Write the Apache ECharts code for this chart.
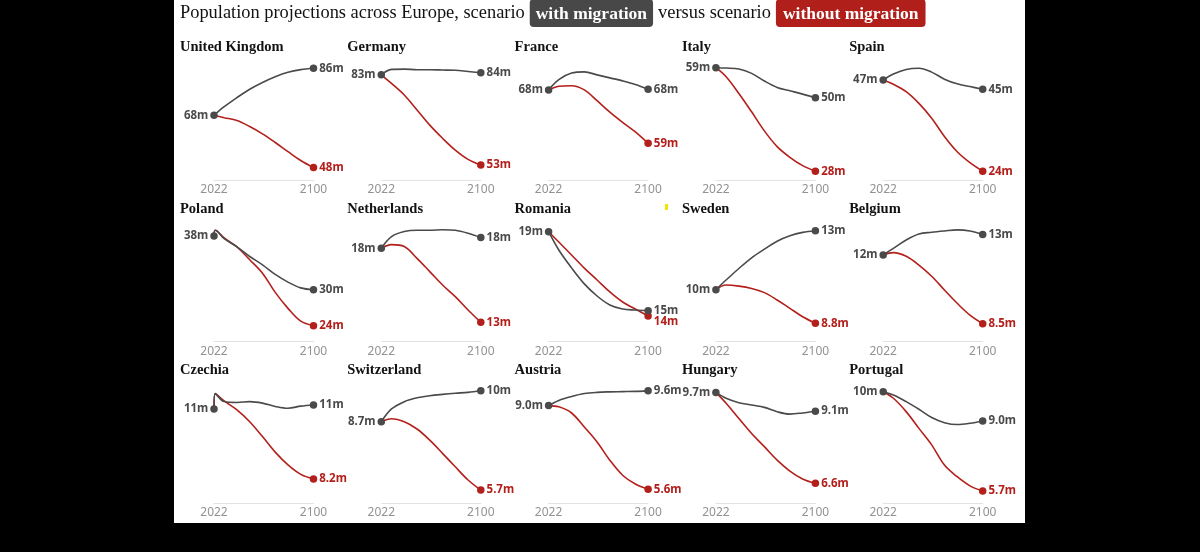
<!DOCTYPE html>
<html>
<head>
<meta charset="utf-8">
<script src="https://cdn.jsdelivr.net/npm/echarts@6/dist/echarts.min.js"></script>
<style>
  html, body { margin: 0; padding: 0; background: #000; }
  #sheet { position: absolute; left: 174px; top: 0; width: 851px; height: 523px; background: #fff; }
  #chart { position: absolute; left: 0; top: 0; width: 1200px; height: 552px; }
</style>
</head>
<body>
<div id="sheet"></div>
<div id="chart"></div>
<script>
// countries, left to right, top to bottom
var countries = ['United Kingdom', 'Germany', 'France', 'Italy', 'Spain',
  'Poland', 'Netherlands', 'Romania', 'Sweden', 'Belgium',
  'Czechia', 'Switzerland', 'Austria', 'Hungary', 'Portugal'];

// years of the points
var years = [2022, 2030, 2040, 2050, 2060, 2070, 2080, 2090, 2100];
// Poland and Czechia jump right after the first year
var yearsEarlyJump = [2022, 2023, 2030, 2040, 2050, 2060, 2070, 2080, 2090, 2100];

// population in millions, scenario with migration
var withMigration = [
  [68, 71.3, 74.8, 78.0, 80.6, 82.8, 84.5, 85.5, 86.0],
  [83.3, 85.1, 85.2, 85.0, 85.0, 84.9, 84.8, 84.4, 84.0],
  [67.9, 69.6, 70.7, 70.9, 70.4, 69.9, 69.4, 68.8, 68.0],
  [59.0, 58.9, 58.6, 57.3, 55.0, 53.1, 52.1, 51.1, 50.0],
  [47.4, 48.9, 50.1, 50.4, 49.4, 47.6, 46.4, 45.7, 45.0],
  [38.0, 38.9, 37.6, 36.3, 34.8, 33.5, 32.0, 30.8, 29.9, 29.6],
  [17.6, 18.34, 18.66, 18.74, 18.74, 18.78, 18.74, 18.55, 18.28],
  [19.1, 18.06, 17.04, 16.13, 15.44, 14.93, 14.70, 14.64, 14.6],
  [10.4, 10.86, 11.41, 11.92, 12.33, 12.71, 12.97, 13.13, 13.21],
  [11.7, 12.01, 12.40, 12.68, 12.76, 12.82, 12.87, 12.82, 12.66],
  [10.5, 11.0, 10.74, 10.71, 10.74, 10.69, 10.58, 10.52, 10.59, 10.63],
  [8.7, 9.26, 9.58, 9.75, 9.84, 9.90, 9.95, 9.99, 10.06],
  [9.0, 9.21, 9.37, 9.49, 9.54, 9.56, 9.57, 9.58, 9.6],
  [9.7, 9.50, 9.35, 9.27, 9.19, 9.04, 8.96, 9.00, 9.06],
  [10.38, 10.22, 9.91, 9.55, 9.16, 8.92, 8.83, 8.89, 9.0]
];

// population in millions, scenario without migration
var withoutMigration = [
  [68, 67.1, 66.0, 63.7, 60.9, 57.6, 54.1, 50.7, 48.0],
  [83.3, 80.4, 76.5, 71.5, 66.4, 62.0, 58.0, 54.9, 53.0],
  [67.9, 68.5, 68.6, 67.9, 66.1, 64.2, 62.5, 60.9, 59.0],
  [59.0, 56.3, 51.3, 45.8, 40.1, 35.4, 32.2, 29.7, 28.0],
  [47.4, 46.3, 44.4, 41.4, 37.6, 32.9, 29.0, 26.2, 24.0],
  [38.0, 38.9, 37.7, 36.3, 34.3, 32.2, 29.2, 26.7, 24.7, 24.0],
  [17.6, 17.83, 17.71, 16.96, 16.12, 15.27, 14.53, 13.68, 12.9],
  [19.1, 18.51, 17.77, 17.03, 16.35, 15.67, 15.10, 14.70, 14.3],
  [10.4, 10.62, 10.57, 10.46, 10.26, 9.91, 9.51, 9.11, 8.8],
  [11.7, 11.81, 11.64, 11.23, 10.71, 10.07, 9.45, 8.90, 8.5],
  [10.5, 11.0, 10.76, 10.47, 10.08, 9.59, 9.08, 8.66, 8.35, 8.2],
  [8.7, 8.83, 8.70, 8.38, 7.89, 7.31, 6.72, 6.14, 5.7],
  [9.0, 8.95, 8.70, 8.13, 7.52, 6.78, 6.17, 5.81, 5.6],
  [9.7, 9.33, 8.81, 8.30, 7.85, 7.39, 7.02, 6.75, 6.6],
  [10.38, 10.07, 9.44, 8.65, 7.87, 6.92, 6.37, 5.94, 5.7]
];

// each small chart has its own vertical scale
var axisMin = [43.25, 48.0, 52.88, 25.41, 21.76, 21.52, 11.68, 12.85, 7.93, 7.67, 7.41, 5.13, 5.04, 5.93, 5.13];
var axisMax = [89.18, 88.26, 72.88, 61.30, 52.51, 40.27, 19.30, 19.68, 13.65, 13.26, 11.35, 10.40, 9.92, 10.02, 10.79];

var GRAY = '#4a4a4a';
var RED = '#b3201c';
var SANS = 'Noto Sans';
var SERIF = 'Liberation Serif';

function fmt(v) {
  return (v >= 9.95 ? Math.round(v) : v.toFixed(1)) + 'm';
}

var chart = echarts.init(document.getElementById('chart'));

var grids = [], xAxes = [], yAxes = [], series = [];
var titles = [{
  left: 180, top: -1, padding: 0,
  text: '{t|Population projections across Europe, scenario} {a|with migration} {t|versus scenario} {b|without migration}',
  textStyle: {
    fontWeight: 'normal',
    rich: {
      t: { fontFamily: SERIF, fontSize: 18.4, fontWeight: 'normal', color: '#121212', lineHeight: 28 },
      a: { fontFamily: SERIF, fontSize: 17.5, fontWeight: 'bold', color: '#fff', backgroundColor: '#484848',
           borderRadius: 4, padding: [6, 6, 4, 6], lineHeight: 18 },
      b: { fontFamily: SERIF, fontSize: 17.5, fontWeight: 'bold', color: '#fff', backgroundColor: '#b01f1a',
           borderRadius: 4, padding: [6, 7, 4, 7], lineHeight: 18 }
    }
  }
}];

function makeLine(i, vals, yrs, color, isWith, nudge) {
  var last = vals.length - 1;
  var data = vals.map(function (v, k) {
    var item = { value: [yrs[k], v], symbol: 'none' };
    if (k === last || (k === 0 && isWith)) {
      item.symbol = 'circle';
      item.symbolSize = 7.5;
      item.label = {
        show: true,
        position: k === 0 ? 'left' : 'right',
        distance: 2,
        formatter: fmt(v),
        color: k === 0 ? GRAY : color,
        fontFamily: SANS, fontSize: 11.5, fontWeight: 'bold',
        offset: k === last ? [0, nudge] : [0, 0]
      };
    }
    return item;
  });
  return {
    type: 'line', xAxisIndex: i, yAxisIndex: i,
    data: data, smooth: 0.35, showAllSymbol: true, clip: false, silent: true,
    lineStyle: { color: color, width: 1.6 },
    itemStyle: { color: color },
    z: isWith ? 4 : 3
  };
}

countries.forEach(function (name, i) {
  var row = Math.floor(i / 5), col = i % 5;
  var left = 214 + col * 167.3;
  var top = 60 + row * 161.5;
  grids.push({ left: left, top: top, width: 99.5, height: 120 });
  titles.push({
    text: name, left: left - 34, top: top - 20, padding: 0,
    textStyle: { fontFamily: SERIF, fontSize: 14.5, fontWeight: 'bold', color: '#121212' }
  });
  xAxes.push({
    type: 'value', gridIndex: i, min: 2022, max: 2100,
    axisLine: { show: true, onZero: false, lineStyle: { color: '#e2e2e2', width: 1 } },
    axisTick: { show: false }, splitLine: { show: false },
    axisLabel: {
      customValues: [2022, 2100], margin: 4,
      color: '#929292', fontFamily: SANS, fontSize: 12,
      formatter: function (v) { return String(v); }
    }
  });
  yAxes.push({ type: 'value', gridIndex: i, min: axisMin[i], max: axisMax[i], show: false });

  var w = withMigration[i], wo = withoutMigration[i];
  var yrs = w.length === yearsEarlyJump.length ? yearsEarlyJump : years;
  var last = w.length - 1;
  // keep the two end labels apart when the lines finish close together
  var gap = (w[last] - wo[last]) * 120 / (axisMax[i] - axisMin[i]);
  var nudge = gap < 11 ? 11 - gap : 0;
  series.push(makeLine(i, wo, yrs, RED, false, nudge));
  series.push(makeLine(i, w, yrs, GRAY, true, 0));
});

chart.setOption({
  animation: false,
  backgroundColor: 'transparent',
  title: titles,
  grid: grids,
  xAxis: xAxes,
  yAxis: yAxes,
  series: series,
  graphic: [{
    type: 'rect', shape: { x: 665, y: 204, width: 3, height: 6 },
    style: { fill: '#f2e600' }, silent: true
  }]
});
</script>
</body>
</html>
